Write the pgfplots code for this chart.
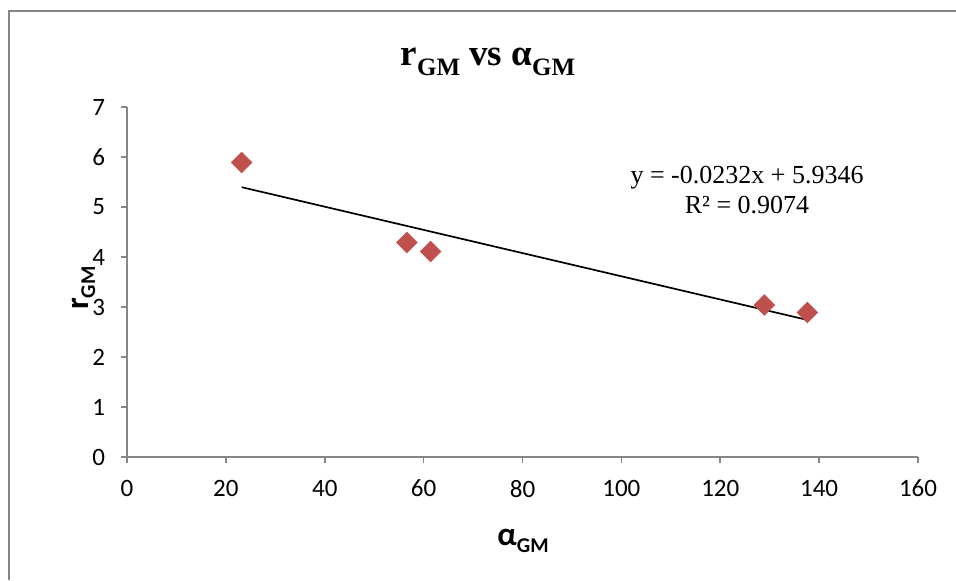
\documentclass[border=0pt]{standalone}
\usepackage{pgfplots}
\pgfplotsset{compat=1.18}
\usepackage{fontspec}
\setmainfont{Liberation Serif}
\newfontfamily\calibri{Carlito}
\definecolor{axisgray}{HTML}{868686}
\definecolor{markred}{HTML}{C0504D}
\begin{document}
\begin{tikzpicture}[x=1pt,y=1pt]
\useasboundingbox (0,0) rectangle (478,290);
\draw[color=axisgray,line width=1pt] (4.25,0) -- (4.25,284.25) -- (478,284.25);
\begin{axis}[
  at={(63.5pt,61.5pt)}, anchor=origin,
  scale only axis, width=395.5pt, height=175pt,
  xmin=0, xmax=160, ymin=0, ymax=7,
  xtick={0,20,...,160}, ytick={0,1,...,7},
  axis lines=left, axis line style={-, color=axisgray, line width=0.8pt},
  tick align=outside, major tick length=3pt,
  tick style={color=axisgray, line width=0.8pt},
  /pgf/number format/assume math mode=true,
  tick label style={font=\calibri\fontsize{12.5}{15}\selectfont, color=black},
  xticklabel style={yshift=-5pt},
  yticklabel style={xshift=-4.5pt},
  clip=false,
]
\addplot[only marks, mark=square*, mark size=3.6pt, color=markred,
  every mark/.append style={rotate=45}] coordinates {
  (23.2,5.89) (56.6,4.29) (61.4,4.11) (128.9,3.04) (137.6,2.89)
};
\addplot[black, line width=0.85pt] coordinates {(23.2,5.396) (137.6,2.742)};
\end{axis}
\node[anchor=base] at (244,257.5) {\bfseries\fontsize{18.5}{22}\selectfont r\raisebox{-5pt}{\fontsize{12.5}{14}\selectfont GM} vs α\raisebox{-5pt}{\fontsize{12.5}{14}\selectfont GM}};
\node[anchor=base] at (373.5,198.5) {\fontsize{13}{15}\selectfont y = -0.0232x + 5.9346};
\node[anchor=base] at (373.5,183.5) {\fontsize{13}{15}\selectfont R² = 0.9074};
\node[anchor=base] at (261.5,17.5) {\calibri\bfseries\fontsize{16.5}{19}\selectfont α\raisebox{-3.5pt}{\fontsize{10.5}{12}\selectfont GM}};
\node[anchor=base, rotate=90] at (44,146) {\calibri\bfseries\fontsize{16.5}{19}\selectfont r\raisebox{-3.5pt}{\fontsize{10.5}{12}\selectfont GM}};
\end{tikzpicture}
\end{document}
